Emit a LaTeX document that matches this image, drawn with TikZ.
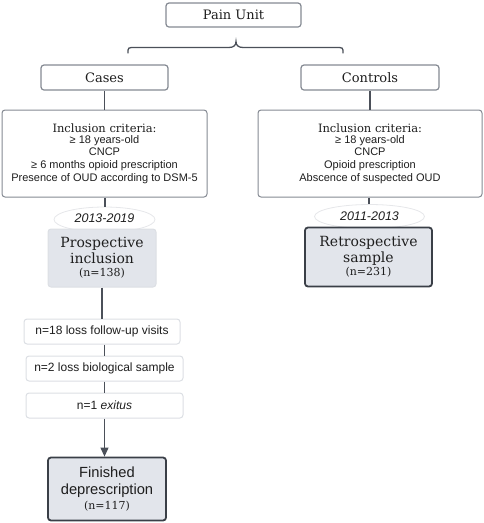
\documentclass[tikz,border=0pt]{standalone}
\usepackage{fontspec}
\setmainfont{Liberation Sans}
\newfontfamily\serifF{DejaVu Serif}
\usetikzlibrary{shapes.geometric,arrows.meta}
\definecolor{linec}{HTML}{4B5059}
\definecolor{boxb}{HTML}{858A93}
\definecolor{lightb}{HTML}{DCDFE4}
\definecolor{ellb}{HTML}{E6E7EA}
\definecolor{fillg}{HTML}{E2E5EB}
\definecolor{darkb}{HTML}{3A3F47}
\definecolor{textc}{HTML}{1E1E1E}
\tikzset{
  base/.style={inner sep=0pt, text=textc, align=center},
  headbox/.style={base, draw=boxb, line width=1.2pt, rounded corners=3pt, fill=white,
    font=\serifF\fontsize{13}{15}\selectfont},
  critbox/.style={base, draw=boxb, line width=1pt, rounded corners=3pt, fill=white,
    font=\fontsize{11}{12.7}\selectfont},
  yearell/.style={base, ellipse, draw=ellb, line width=0.8pt, fill=white},
  yeartext/.style={base, font=\itshape\fontsize{12.5}{14}\selectfont},
  greybox/.style={base, fill=fillg, draw=lightb, line width=1pt, rounded corners=3pt,
    font=\serifF\fontsize{14}{16}\selectfont},
  darkbox/.style={base, fill=fillg, draw=darkb, line width=1.8pt, rounded corners=3pt},
  stepbox/.style={base, draw=lightb, line width=1pt, rounded corners=3pt, fill=white,
    font=\fontsize{12}{14}\selectfont},
  conn/.style={draw=linec, line width=1.1pt},
}
\begin{document}
\begin{tikzpicture}[x=1pt,y=-1pt]
\useasboundingbox (0,0) rectangle (484,523);

\node[headbox, minimum width=135pt, minimum height=24pt] (pain) at (233.5,15) {Pain Unit};
\node[headbox, minimum width=127pt, minimum height=25pt] (cases) at (104.5,77.5) {Cases};
\node[headbox, minimum width=138pt, minimum height=25pt] (controls) at (370,77.5) {Controls};

% brace
\draw[conn, line width=1.3pt, line cap=round]
  (128,53) .. controls (128,47.5) .. (135,47.5) -- (229,47.5)
  .. controls (234,47.5) and (236,45) .. (236,41.5)
  .. controls (236,45) and (238,47.5) .. (243,47.5) -- (336,47.5)
  .. controls (343,47.5) .. (343,53);

\node[critbox, minimum width=205pt, minimum height=87pt] (critL) at (104.5,153.5)
 {{\serifF\fontsize{11.5}{13}\selectfont Inclusion criteria:}\\[-1.5pt]
  ≥ 18 years-old\\ CNCP\\ ≥ 6 months opioid prescription\\ Presence of OUD according to DSM-5};
\node[critbox, minimum width=224pt, minimum height=87pt] (critR) at (370,153.5)
 {{\serifF\fontsize{11.5}{13}\selectfont Inclusion criteria:}\\[-1.5pt]
  ≥ 18 years-old\\ CNCP\\ Opioid prescription\\ Abscence of suspected OUD};

\node[yearell, minimum width=101pt, minimum height=25pt] (yearL) at (104.5,219.5) {};
\node[greybox, minimum width=108pt, minimum height=58pt] (prosp) at (102,258)
 {Prospective\\ inclusion\\[-3pt] {\fontsize{11}{12}\selectfont (n=138)}};
\node[yeartext] (yearLt) at (104.5,218) {2013-2019};

\node[yearell, minimum width=110pt, minimum height=24pt] (yearR) at (369.5,216.5) {};
\node[darkbox, minimum width=127pt, minimum height=59pt, font=\serifF\fontsize{14}{16}\selectfont] (retro) at (368.5,257)
 {Retrospective\\ sample\\[-3pt] {\fontsize{11}{12}\selectfont (n=231)}};
\node[yeartext] (yearRt) at (369.5,216) {2011-2013};

\node[stepbox, minimum width=156pt, minimum height=25pt] (n18) at (102,331.5) {n=18 loss follow-up visits};
\node[stepbox, minimum width=157pt, minimum height=25pt] (n2) at (104.5,368.5) {n=2 loss biological sample};
\node[stepbox, minimum width=157pt, minimum height=25pt] (n1) at (104.5,405.5) {n=1 \textit{exitus}};

\node[darkbox, minimum width=118pt, minimum height=63pt, font=\fontsize{14.7}{17}\selectfont] (fin) at (107,489)
 {Finished\\ deprescription\\[-2pt] {\serifF\fontsize{11}{12}\selectfont (n=117)}};

% connectors
\draw[conn] (cases.south) -- (critL.north -| cases.south);
\draw[conn] (controls.south) -- (critR.north -| controls.south);
\draw[conn] ([xshift=0.5pt]critL.south) -- ([xshift=0.5pt]yearL.north);
\draw[conn] ([xshift=-1pt]critR.south) -- ([xshift=-0.5pt]yearR.north);
\draw[conn] (prosp.south) -- (n18.north -| prosp.south);
\draw[conn] (n18.south -| n2.north) -- (n2.north);
\draw[conn] (n2.south) -- (n1.north);
\draw[conn, -{Triangle[width=8pt,length=9pt]}] (n1.south) -- (fin.north -| n1.south);
\end{tikzpicture}
\end{document}
